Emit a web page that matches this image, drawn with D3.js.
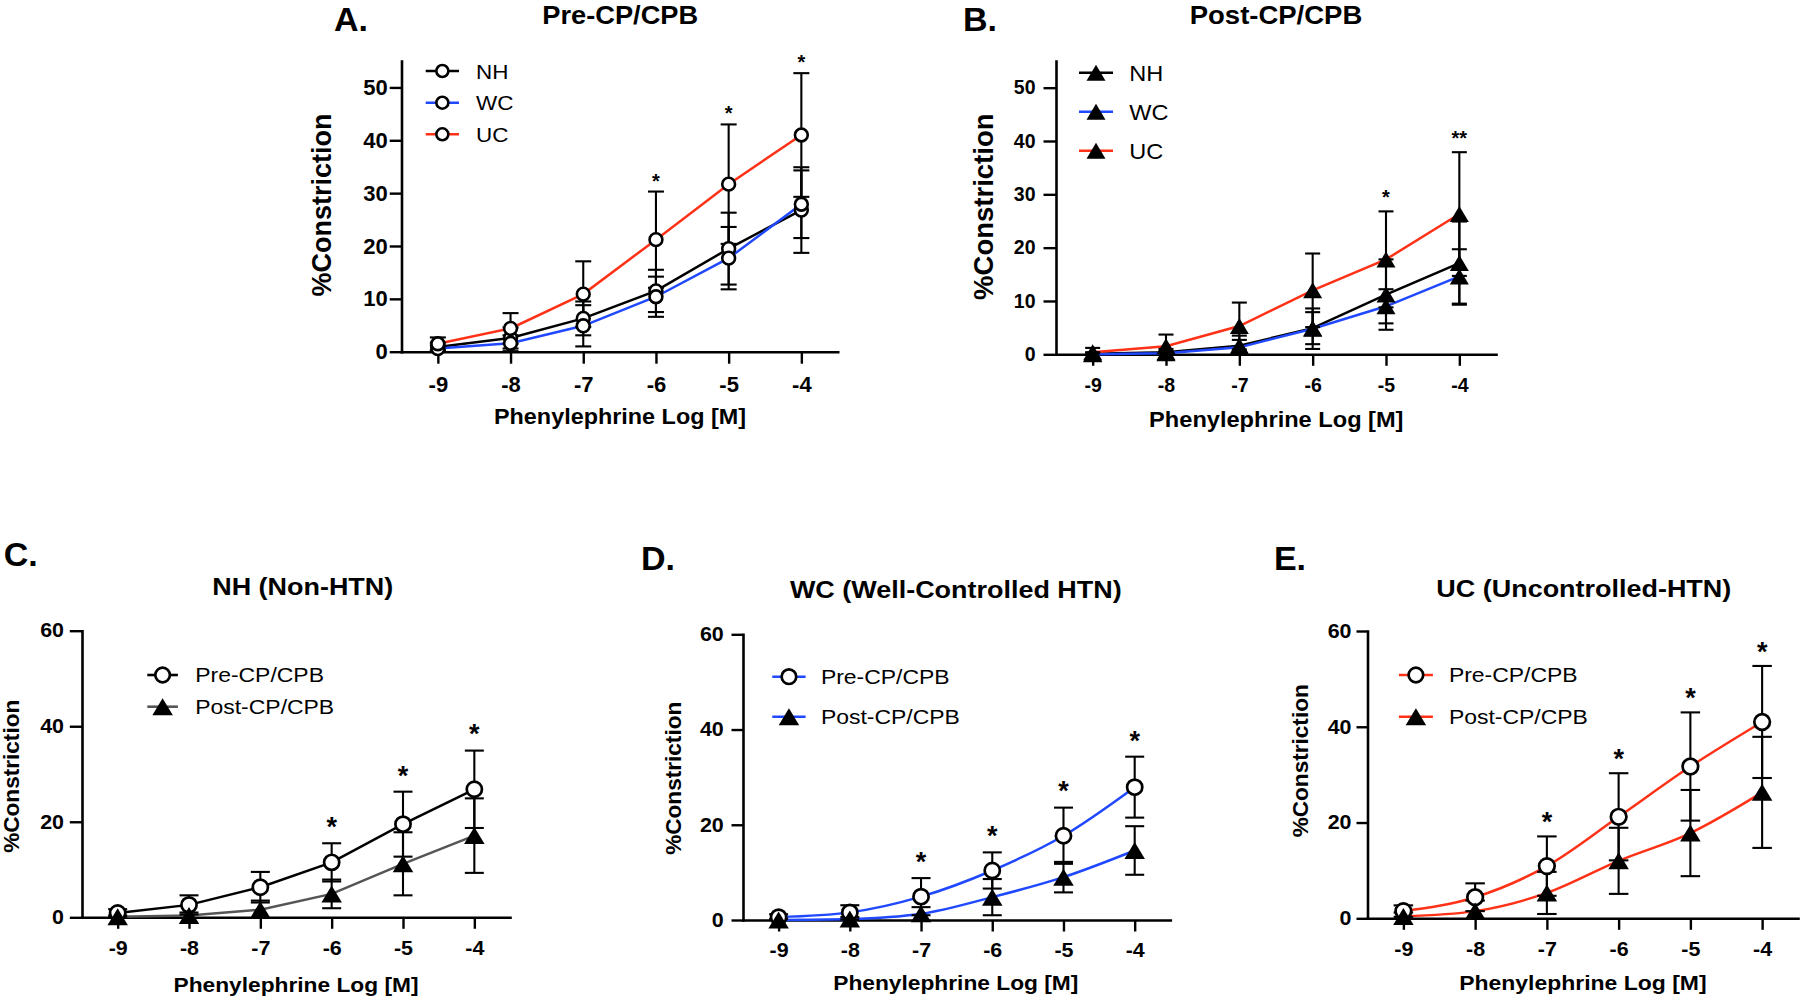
<!DOCTYPE html>
<html><head><meta charset="utf-8">
<script src="https://cdn.jsdelivr.net/npm/d3@7"></script>
<style>
body{margin:0;background:#fff}
svg{display:block}
text{font-family:"Liberation Sans",Arial,Helvetica,sans-serif;fill:#000}
</style>
</head><body><svg id="c" width="1800" height="1000"></svg>
<script>
// ---------- data ----------
const doses = [-9, -8, -7, -6, -5, -4];
const xTickLabels = ["-9", "-8", "-7", "-6", "-5", "-4"];
const yTicksAB = [0, 10, 20, 30, 40, 50];
const yTicksCDE = [0, 20, 40, 60];
const groupNames = ["NH", "WC", "UC"];
const phaseNames = ["Pre-CP/CPB", "Post-CP/CPB"];
const panelLetters = ["A.", "B.", "C.", "D.", "E."];
const panelTitles = ["Pre-CP/CPB", "Post-CP/CPB", "NH (Non-HTN)", "WC (Well-Controlled HTN)", "UC (Uncontrolled-HTN)"];
const xTitle = "Phenylephrine Log [M]";
const yTitle = "%Constriction";

const preNH = [0.9, 2.6, 6.3, 11.5, 19.5, 26.8];
const preNH_sem = [0.8, 2.0, 3.2, 4.0, 6.8, 8.1];
const preWC = [0.6, 1.6, 4.9, 10.4, 17.7, 27.9];
const preWC_sem = [0.6, 1.5, 3.9, 3.8, 5.9, 6.4];
const preUC = [1.5, 4.4, 10.9, 21.2, 31.7, 41.0];
const preUC_sem = [1.2, 2.9, 6.2, 9.1, 11.3, 11.7];
const postNH = [0.1, 0.4, 1.6, 4.9, 11.2, 17.1];
const postNH_sem = [0.3, 0.6, 1.9, 3.0, 6.6, 7.8];
const postWC = [0.0, 0.2, 1.3, 4.8, 9.0, 14.6];
const postWC_sem = [0.2, 0.4, 1.4, 3.8, 3.2, 5.1];
const postUC = [0.4, 1.5, 5.3, 12.0, 17.8, 26.3];
const postUC_sem = [0.8, 2.2, 4.4, 6.9, 9.0, 11.6];

const sigA = ["", "", "", "*", "*", "*"];
const sigB = ["", "", "", "", "*", "**"];
const sigC = ["", "", "", "*", "*", "*"];
const sigD = ["", "", "*", "*", "*", "*"];
const sigE = ["", "", "*", "*", "*", "*"];

// ---------- style / layout ----------
const BLACK = "#000", BLUE = "#1f48ff", RED = "#ff3116", GRAY = "#555";
const svg = d3.select("#c");

const panels = [
  { letter: 0, title: 0, sig: sigA, yTicks: yTicksAB, ymax: 55,
    x0: 401.5, x1: 837.7, y0: 351.7, y1: 61,
    ytick: 11.8, ypad: 2, xtick: 12, xlabY: 40, tickFs: 22, tickSx: 1.0,
    letterX: 333.9, letterY: 30.5, titleX: 620.2, titleY: 23.5, titleFs: 25, titleSx: 1.09,
    xtX: 620, xtY: 423.5, xtFs: 22.5, xtSx: 1.04, ytX: 331.4, ytY: 205, ytFs: 27,
    starFs: 20, starOff: 15, markR: 6.4, markSW: 2.6, triW: 18.5, triH: 15.5, capW: 16,
    legend: { x0: 425.7, x1: 459, ys: [71, 102.7, 134.3], tx: 476, fs: 21, sx: 1.07, r: 6 },
    series: [
      { v: preNH, e: preNH_sem, line: BLACK, m: "circle", name: groupNames[0] },
      { v: preWC, e: preWC_sem, line: BLUE, m: "circle", name: groupNames[1] },
      { v: preUC, e: preUC_sem, line: RED, m: "circle", name: groupNames[2] }
    ], curve: d3.curveLinear },
  { letter: 1, title: 1, sig: sigB, yTicks: yTicksAB, ymax: 55,
    x0: 1056, x1: 1496, y0: 354.3, y1: 61,
    ytick: 12.5, ypad: 8, xtick: 11.5, xlabY: 37.5, tickFs: 19.5, tickSx: 1.0,
    letterX: 963, letterY: 30.5, titleX: 1276, titleY: 23.5, titleFs: 25, titleSx: 1.1,
    xtX: 1276.3, xtY: 426.5, xtFs: 22.5, xtSx: 1.05, ytX: 993.3, ytY: 206.7, ytFs: 27.5,
    starFs: 20, starOff: 18, markR: 6.4, markSW: 2.6, triW: 19, triH: 16, capW: 15,
    legend: { x0: 1079, x1: 1113, ys: [72.7, 111.7, 150.7], tx: 1129.3, fs: 22, sx: 1.07, r: 6 },
    series: [
      { v: postNH, e: postNH_sem, line: BLACK, m: "tri", name: groupNames[0] },
      { v: postWC, e: postWC_sem, line: BLUE, m: "tri", name: groupNames[1] },
      { v: postUC, e: postUC_sem, line: RED, m: "tri", name: groupNames[2] }
    ], curve: d3.curveLinear },
  { letter: 2, title: 2, sig: sigC, yTicks: yTicksCDE, ymax: 60,
    x0: 82, x1: 510, y0: 917.3, y1: 630.7,
    ytick: 12.2, ypad: 5.8, xtick: 11.5, xlabY: 37.7, tickFs: 19.5, tickSx: 1.1,
    letterX: 3.8, letterY: 566, titleX: 302.7, titleY: 595, titleFs: 24.5, titleSx: 1.1,
    xtX: 296, xtY: 992, xtFs: 20.5, xtSx: 1.11, ytX: 19.1, ytY: 776.3, ytFs: 22.6,
    starFs: 27, starOff: 22, markR: 7.6, markSW: 2.7, triW: 20.5, triH: 17, capW: 19,
    legend: { x0: 147.3, x1: 177.9, ys: [675, 706.7], tx: 195.2, fs: 20.5, sx: 1.12, r: 7.3 },
    series: [
      { v: preNH, e: preNH_sem, line: BLACK, m: "circle", name: phaseNames[0] },
      { v: postNH, e: postNH_sem, line: GRAY, m: "tri", name: phaseNames[1] }
    ], curve: d3.curveLinear },
  { letter: 3, title: 3, sig: sigD, yTicks: yTicksCDE, ymax: 60,
    x0: 743, x1: 1170.3, y0: 920, y1: 634.3,
    ytick: 11.5, ypad: 7.7, xtick: 11.5, xlabY: 36.5, tickFs: 19.5, tickSx: 1.1,
    letterX: 641, letterY: 570, titleX: 955.8, titleY: 598.3, titleFs: 24.5, titleSx: 1.1,
    xtX: 955.8, xtY: 990, xtFs: 20.5, xtSx: 1.11, ytX: 681.2, ytY: 778.3, ytFs: 22.6,
    starFs: 27, starOff: 22, markR: 7.6, markSW: 2.7, triW: 20.5, triH: 17, capW: 19,
    legend: { x0: 772.3, x1: 805.6, ys: [676.7, 716.7], tx: 820.9, fs: 20.5, sx: 1.12, r: 7.3 },
    series: [
      { v: preWC, e: preWC_sem, line: BLUE, m: "circle", name: phaseNames[0] },
      { v: postWC, e: postWC_sem, line: BLUE, m: "tri", name: phaseNames[1] }
    ], curve: d3.curveMonotoneX },
  { letter: 4, title: 4, sig: sigE, yTicks: yTicksCDE, ymax: 60,
    x0: 1367.5, x1: 1798, y0: 918.3, y1: 631,
    ytick: 11, ypad: 5, xtick: 11.5, xlabY: 37.7, tickFs: 19.5, tickSx: 1.1,
    letterX: 1273.9, letterY: 570, titleX: 1583.8, titleY: 596.7, titleFs: 24.5, titleSx: 1.1,
    xtX: 1582.9, xtY: 990, xtFs: 20.5, xtSx: 1.12, ytX: 1307.9, ytY: 760.8, ytFs: 22.6,
    starFs: 27, starOff: 20, markR: 7.8, markSW: 2.7, triW: 20.5, triH: 17, capW: 19.5,
    legend: { x0: 1398.9, x1: 1432.9, ys: [675, 716.7], tx: 1448.9, fs: 20.5, sx: 1.12, r: 7.3 },
    series: [
      { v: preUC, e: preUC_sem, line: RED, m: "circle", name: phaseNames[0] },
      { v: postUC, e: postUC_sem, line: RED, m: "tri", name: phaseNames[1] }
    ], curve: d3.curveMonotoneX }
];

function triPath(w, h) {
  return `M0,${-h / 2}L${w / 2},${h / 2}L${-w / 2},${h / 2}Z`;
}

function drawMarker(g, type, cx, cy, p, r) {
  if (type === "circle") {
    g.append("circle").attr("cx", cx).attr("cy", cy).attr("r", r || p.markR)
      .attr("fill", "#fff").attr("stroke", "#000").attr("stroke-width", p.markSW);
  } else {
    g.append("path").attr("d", triPath(p.triW, p.triH)).attr("transform", `translate(${cx},${cy})`)
      .attr("fill", "#000");
  }
}

function txt(g, x, y, s, fs, opt) {
  opt = opt || {};
  const sx = opt.sx || 1;
  return g.append("text")
    .attr("transform", `translate(${x},${y})` + (opt.rot ? ` rotate(${opt.rot})` : "") + ` scale(${sx},1)`)
    .attr("text-anchor", opt.anchor || "start")
    .attr("font-size", fs).attr("font-weight", opt.bold ? "bold" : "normal").text(s);
}

panels.forEach(p => {
  const g = svg.append("g");
  const x = d3.scaleLinear().domain([-9.5, -3.5]).range([p.x0, p.x1]);
  const y = d3.scaleLinear().domain([0, p.ymax]).range([p.y0, p.y1]);

  // axes
  const ya = g.append("g").attr("transform", `translate(${p.x0},0)`)
    .call(d3.axisLeft(y).tickValues(p.yTicks).tickSize(p.ytick).tickPadding(p.ypad)
      .tickSizeOuter(0).tickFormat(d3.format("d")));
  const xa = g.append("g").attr("transform", `translate(0,${p.y0})`)
    .call(d3.axisBottom(x).tickValues(doses).tickSize(p.xtick).tickSizeOuter(0)
      .tickFormat((d, i) => xTickLabels[i]));
  [ya, xa].forEach(a => {
    a.select(".domain").attr("stroke", "#000").attr("stroke-width", 2.6).attr("stroke-linecap", "square");
    a.selectAll(".tick line").attr("stroke", "#000").attr("stroke-width", 2.4);
    a.selectAll(".tick text").attr("font-size", p.tickFs).attr("font-weight", "bold")
      .attr("font-family", "'Liberation Sans',Arial,sans-serif").attr("fill", "#000");
  });
  xa.selectAll(".tick text").attr("y", null).attr("dy", null)
    .attr("transform", `translate(0,${p.xlabY}) scale(${p.tickSx},1)`);
  ya.selectAll(".tick text").attr("x", null)
    .attr("transform", `translate(${-(p.ytick + p.ypad)},0) scale(${p.tickSx},1)`);

  // lines
  p.series.forEach(s => {
    g.append("path").datum(s.v)
      .attr("d", d3.line().x((d, i) => x(doses[i])).y(d => y(d)).curve(p.curve))
      .attr("fill", "none").attr("stroke", s.line).attr("stroke-width", 2.5);
  });
  // error bars (mean ± SEM)
  p.series.forEach(s => {
    s.v.forEach((v, i) => {
      const cx = x(doses[i]);
      const lo = Math.max(0, v - s.e[i]), hi = v + s.e[i];
      g.append("line").attr("x1", cx).attr("x2", cx).attr("y1", y(lo)).attr("y2", y(hi))
        .attr("stroke", "#000").attr("stroke-width", 2.1);
      [lo, hi].forEach(t => {
        if (t === 0) return;
        g.append("line").attr("x1", cx - p.capW / 2).attr("x2", cx + p.capW / 2)
          .attr("y1", y(t)).attr("y2", y(t)).attr("stroke", "#000").attr("stroke-width", 2.1);
      });
    });
  });
  // markers
  p.series.forEach(s => {
    s.v.forEach((v, i) => drawMarker(g, s.m, x(doses[i]), y(v), p));
  });
  // significance marks
  p.sig.forEach((t, i) => {
    if (!t) return;
    const top = d3.max(p.series, s => s.v[i] + s.e[i]);
    const cy = y(top) - p.starOff;
    txt(g, x(doses[i]), cy + 0.55 * p.starFs, t, p.starFs, { anchor: "middle", bold: true });
  });

  // legend
  p.series.forEach((s, k) => {
    const ly = p.legend.ys[k];
    g.append("line").attr("x1", p.legend.x0).attr("x2", p.legend.x1).attr("y1", ly).attr("y2", ly)
      .attr("stroke", s.line).attr("stroke-width", 2.6);
    drawMarker(g, s.m, (p.legend.x0 + p.legend.x1) / 2, ly, p, p.legend.r);
    txt(g, p.legend.tx, ly + 0.36 * p.legend.fs, s.name, p.legend.fs, { sx: p.legend.sx });
  });

  // texts
  txt(g, p.letterX, p.letterY, panelLetters[p.letter], 34, { bold: true });
  txt(g, p.titleX, p.titleY, panelTitles[p.title], p.titleFs, { anchor: "middle", bold: true, sx: p.titleSx });
  txt(g, p.xtX, p.xtY, xTitle, p.xtFs, { anchor: "middle", bold: true, sx: p.xtSx });
  txt(g, p.ytX, p.ytY, yTitle, p.ytFs, { anchor: "middle", bold: true, rot: -90 });
});
</script>
</body></html>
